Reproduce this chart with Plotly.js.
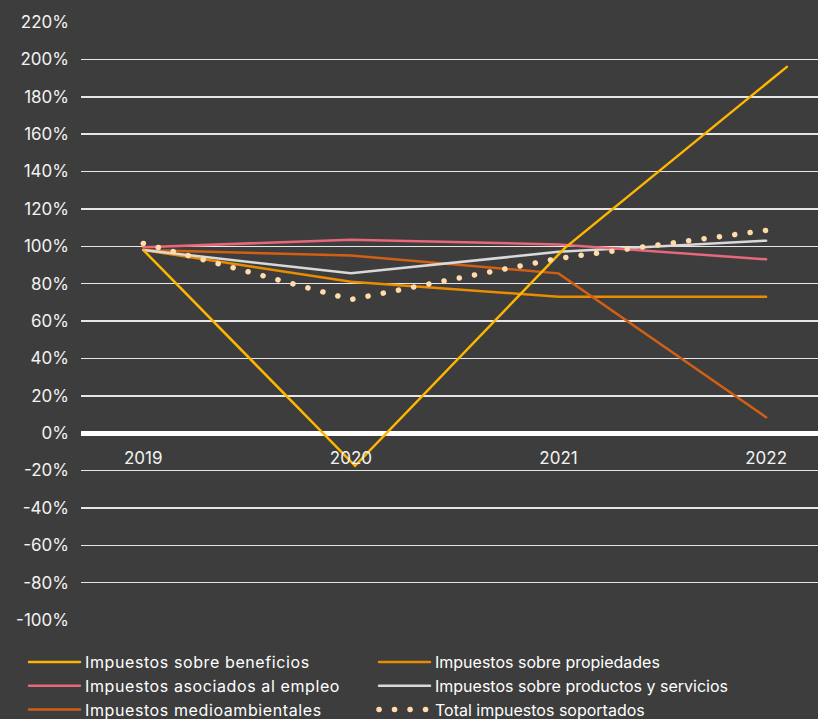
<!DOCTYPE html>
<html>
<head>
<meta charset="utf-8">
<script src="https://cdn.plot.ly/plotly-3.0.1.min.js"></script>
<style>
  html, body { margin: 0; padding: 0; background: #3d3d3d; }
  #chart { width: 818px; height: 719px; }
  .js-line { stroke-linecap: round; }
  .legendtext { letter-spacing: 0.6px; }
</style>
</head>
<body>
<div id="chart"></div>
<script>
// Categories
const years = [2019, 2020, 2021, 2022];
const yearLabels = ['2019', '2020', '2021', '2022'];
// The "beneficios" line in the original is drawn slightly stretched to the right
const beneficiosX = [2019, 2020.02, 2021.03, 2022.1];

// Y tick labels
const yTickVals = [-100, -80, -60, -40, -20, 0, 20, 40, 60, 80, 100, 120, 140, 160, 180, 200, 220];
const yTickText = ['-100%', '-80%', '-60%', '-40%', '-20%', '0%', '20%', '40%', '60%', '80%', '100%',
                   '120%', '140%', '160%', '180%', '200%', '220%'];

// Series values (%)
const beneficios = [98, -17.5, 99, 196];
const propiedades = [98, 81, 73, 73];
const empleo = [99.5, 103.5, 101, 93];
const productos = [98, 85.5, 97, 103];
const medioambientales = [98, 95, 85.5, 8.5];
const total = [101.5, 71.5, 93.5, 108.5];

const names = {
  beneficios: 'Impuestos sobre beneficios',
  propiedades: 'Impuestos sobre propiedades',
  empleo: 'Impuestos asociados al empleo',
  productos: 'Impuestos sobre productos y servicios',
  medio: 'Impuestos medioambientales',
  total: 'Total impuestos soportados'
};

const colors = {
  beneficios: '#FFB600',
  propiedades: '#EB8C00',
  empleo: '#E8687B',
  productos: '#D9D9D9',
  medio: '#D35F12',
  total: '#FFDCA9'
};

function lineTrace(x, y, key, rank, legendId, extra) {
  return Object.assign({
    type: 'scatter',
    mode: 'lines',
    x: x, y: y,
    name: names[key],
    legend: legendId,
    legendrank: rank,
    line: { color: colors[key], width: 2.5 },
    hoverinfo: 'skip'
  }, extra || {});
}

const traces = [
  lineTrace(years, propiedades, 'propiedades', 1, 'legend2'),
  lineTrace(years, medioambientales, 'medio', 3, 'legend'),
  lineTrace(years, productos, 'productos', 2, 'legend2'),
  lineTrace(years, empleo, 'empleo', 2, 'legend'),
  lineTrace(beneficiosX, beneficios, 'beneficios', 1, 'legend'),
  lineTrace(years, total, 'total', 3, 'legend2', { line: { color: colors.total, width: 5.5, dash: '0.1px,15.4px' } })
];

const FONT = 'Inter, "Liberation Sans", Arial, sans-serif';

function legendBox(xPx) {
  return {
    orientation: 'v',
    xref: 'container',
    yref: 'container',
    x: xPx / 818,
    y: 1 - 645 / 719,
    xanchor: 'left',
    yanchor: 'top',
    itemwidth: 51,
    traceorder: 'normal',
    tracegroupgap: 0,
    bgcolor: 'rgba(0,0,0,0)',
    font: { family: FONT, size: 16, color: '#ffffff' }
  };
}

const layout = {
  width: 818,
  height: 719,
  paper_bgcolor: '#3d3d3d',
  plot_bgcolor: '#3d3d3d',
  margin: { l: 81, r: 0, t: 22, b: 99, autoexpand: false },
  font: { family: FONT, size: 17, color: '#f2f2f2' },
  showlegend: true,
  xaxis: {
    type: 'linear',
    range: [2018.70, 2022.25],
    tickvals: years,
    ticktext: yearLabels,
    showgrid: false,
    zeroline: false,
    showline: false,
    ticks: '',
    anchor: 'free',
    position: 0.3125,
    ticklabelstandoff: 13,
    tickfont: { size: 17, color: '#f2f2f2' }
  },
  yaxis: {
    range: [-100, 220],
    tickvals: yTickVals,
    ticktext: yTickText,
    showgrid: true,
    gridcolor: '#e6e6e6',
    gridwidth: 1.5,
    zeroline: true,
    zerolinecolor: '#ffffff',
    zerolinewidth: 5,
    showline: false,
    ticks: '',
    ticklabelstandoff: 11,
    tickfont: { size: 17, color: '#f2f2f2' }
  },
  legend: legendBox(24),
  legend2: legendBox(374)
};

Plotly.newPlot('chart', traces, layout, { displayModeBar: false, staticPlot: true });
</script>
</body>
</html>
